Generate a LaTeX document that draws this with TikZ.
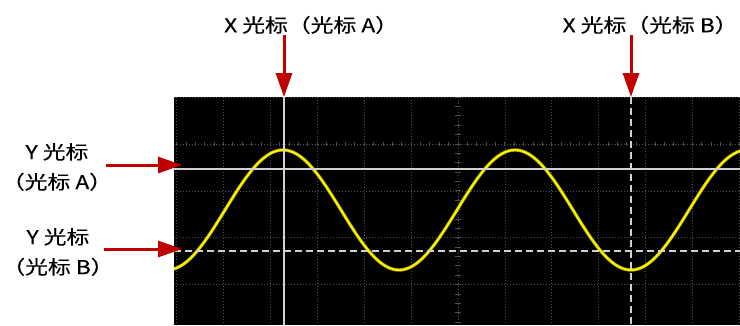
\documentclass[tikz,border=0pt]{standalone}
\usepackage{fontspec}
\setmainfont{Noto Sans CJK SC}[FakeBold=0.3]
\usetikzlibrary{arrows.meta, positioning}
\definecolor{cursorred}{RGB}{192,0,0}
\definecolor{traceyellow}{RGB}{248,242,0}
\definecolor{gridgray}{RGB}{80,80,80}
\newcommand{\widetext}[1]{\scalebox{1.2}[1]{#1}}

\begin{document}
\begin{tikzpicture}[x=1pt, y=-1pt,
  every node/.style={font=\fontsize{19}{30}\selectfont, inner sep=1pt},
  lbl/.style={align=center},
  pointer/.style={draw=cursorred, line width=3pt, -{Triangle[length=24pt, width=16pt]}},
  gridline/.style={gridgray, line width=0.8pt, dash pattern=on 1pt off 2pt},
  axistick/.style={gridgray, line width=0.9pt},
  cursorsolid/.style={white!82!black, line width=1.2pt},
  cursordash/.style={white!82!black, line width=1.2pt, dash pattern=on 7pt off 4pt},
  trace/.style={traceyellow, line width=2.2pt},
]
  \useasboundingbox (0,0) rectangle (740,325);
  \fill[black] (174,97) rectangle (740,325);

  \begin{scope}
    \clip (174,97) rectangle (740,325);
    \foreach \k in {-6,...,6}
      \draw[gridline] ({458+46.9*\k},97) -- ({458+46.9*\k},325);
    \foreach \k in {-1,...,4}
      \draw[gridline] (174,{144+46.9*\k}) -- (740,{144+46.9*\k});
    \foreach \t in {-30,...,30}
      \draw[axistick] ({458+9.38*\t},142) -- ({458+9.38*\t},146);
    \foreach \t in {-5,...,20}
      \draw[axistick] (455,{144+9.38*\t}) -- (461,{144+9.38*\t});

    \draw[traceyellow!55!black, line width=3.4pt]
      plot[domain=170:744, samples=240, smooth] (\x, {210-60*cos(1.5517*(\x-283))});
    \draw[trace]
      plot[domain=170:744, samples=240, smooth] (\x, {210-60*cos(1.5517*(\x-283))});

    \draw[cursorsolid] (174,169) -- (740,169);
    \draw[cursorsolid] (284,97) -- (284,325);
    \draw[cursordash] (174,251) -- (740,251);
    \draw[cursordash] (631,97) -- (631,325);
  \end{scope}

  \node[lbl] (xalbl) at (306,25) {\widetext{X 光标（光标 A）\kern-0.45em}};
  \node[lbl] (xblbl) at (645,25) {\widetext{X 光标（光标 B）\kern-0.45em}};
  \node[lbl] (yalbl) at (57,167) {\widetext{Y 光标}\\\widetext{\kern-0.45em（光标 A）\kern-0.45em}};
  \node[lbl] (yblbl) at (58,252) {\widetext{Y 光标}\\\widetext{\kern-0.45em（光标 B）\kern-0.45em}};

  \coordinate (xacur) at (284,97);
  \coordinate (xbcur) at (631,97);
  \coordinate (yatail) at (106,165);
  \coordinate (yacur) at (182,165);
  \coordinate (ybtail) at (104,249);
  \coordinate (ybcur) at (182,249);

  \draw[pointer] (xalbl.south -| xacur) -- (xacur);
  \draw[pointer] (xblbl.south -| xbcur) -- (xbcur);
  \draw[pointer] (yatail) -- (yacur);
  \draw[pointer] (ybtail) -- (ybcur);
\end{tikzpicture}
\end{document}
